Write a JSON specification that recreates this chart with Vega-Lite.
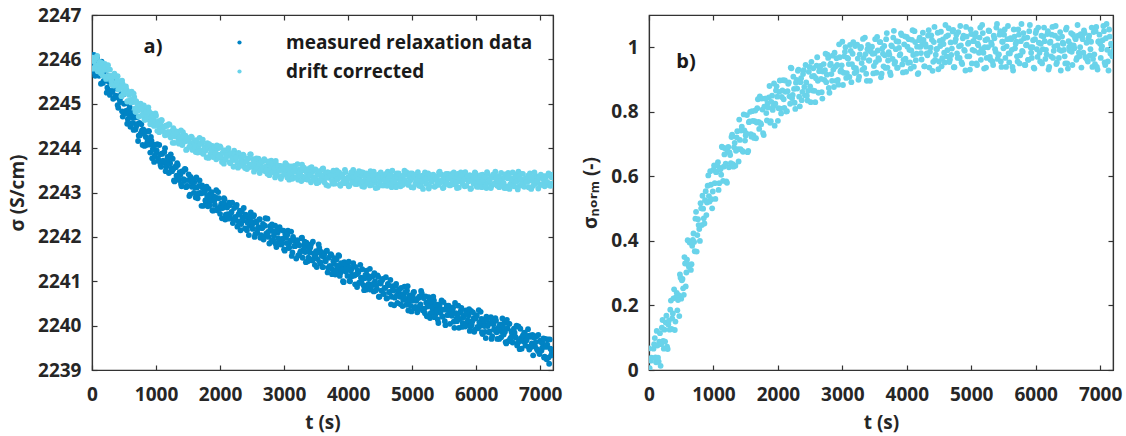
{
"$schema": "https://vega.github.io/schema/vega-lite/v6.json",
"padding": {"left": 7, "top": 5, "right": 5, "bottom": 5},
"spacing": 18,
"config": {
 "font": "Open Sans",
 "view": {"stroke": "#333333", "strokeWidth": 1.2},
 "axis": {"labelFont": "Open Sans", "labelFontSize": 19, "labelFontWeight": "bold", "labelColor": "#262626", "titleFont": "Open Sans, DejaVu Sans", "titleFontSize": 19, "titleFontWeight": "bold", "titleColor": "#262626", "domainColor": "#333333", "domainWidth": 1.2, "tickColor": "#333333", "tickWidth": 1.2, "tickSize": -5, "grid": false, "labelFlush": false, "labelOverlap": false},
 "axisX": {"labelPadding": 20, "titlePadding": 9},
 "axisY": {"labelPadding": 16, "titlePadding": 10},
 "legend": {"labelFont": "Open Sans", "labelFontSize": 19, "labelFontWeight": "bold", "labelColor": "#1a1a1a", "labelOffset": 37, "labelLimit": 0, "rowPadding": 9, "symbolType": "circle", "symbolSize": 18, "padding": 0}
},
"datasets": {"relax": [
{"t":0,"m":2246.09,"d":2245.98,"n":0.067},
{"t":20,"m":2245.72,"d":2245.79,"n":-0.007},
{"t":40,"m":2245.93,"d":2246.00,"n":0.038},
{"t":60,"m":2245.78,"d":2245.86,"n":-0.014},
{"t":80,"m":2246.06,"d":2246.08,"n":0.080},
{"t":100,"m":2245.76,"d":2245.79,"n":0.039},
{"t":120,"m":2245.92,"d":2245.94,"n":0.121},
{"t":140,"m":2245.45,"d":2245.69,"n":0.038},
{"t":160,"m":2245.76,"d":2245.84,"n":0.088},
{"t":180,"m":2245.51,"d":2245.76,"n":0.013},
{"t":200,"m":2245.60,"d":2245.90,"n":0.131},
{"t":220,"m":2245.76,"d":2245.56,"n":0.090},
{"t":240,"m":2245.36,"d":2245.76,"n":0.125},
{"t":260,"m":2245.50,"d":2245.62,"n":0.147},
{"t":280,"m":2245.20,"d":2245.77,"n":0.072},
{"t":300,"m":2245.49,"d":2245.52,"n":0.141},
{"t":320,"m":2245.27,"d":2245.60,"n":0.125},
{"t":340,"m":2245.58,"d":2245.41,"n":0.215},
{"t":360,"m":2245.14,"d":2245.62,"n":0.160},
{"t":380,"m":2245.35,"d":2245.46,"n":0.222},
{"t":400,"m":2244.97,"d":2245.62,"n":0.124},
{"t":420,"m":2245.17,"d":2245.34,"n":0.226},
{"t":440,"m":2245.04,"d":2245.43,"n":0.185},
{"t":460,"m":2245.22,"d":2245.17,"n":0.232},
{"t":480,"m":2244.71,"d":2245.44,"n":0.296},
{"t":500,"m":2245.00,"d":2245.28,"n":0.221},
{"t":520,"m":2244.78,"d":2245.32,"n":0.282},
{"t":540,"m":2245.01,"d":2245.32,"n":0.233},
{"t":560,"m":2244.65,"d":2245.06,"n":0.330},
{"t":580,"m":2244.75,"d":2245.20,"n":0.302},
{"t":600,"m":2244.48,"d":2245.08,"n":0.402},
{"t":620,"m":2244.79,"d":2245.27,"n":0.319},
{"t":640,"m":2244.57,"d":2245.04,"n":0.397},
{"t":660,"m":2244.82,"d":2245.15,"n":0.328},
{"t":680,"m":2244.42,"d":2244.82,"n":0.403},
{"t":700,"m":2244.54,"d":2245.02,"n":0.397},
{"t":720,"m":2244.16,"d":2244.84,"n":0.469},
{"t":740,"m":2244.57,"d":2244.89,"n":0.367},
{"t":760,"m":2244.33,"d":2245.00,"n":0.467},
{"t":780,"m":2244.40,"d":2244.73,"n":0.437},
{"t":800,"m":2244.42,"d":2244.84,"n":0.517},
{"t":820,"m":2244.05,"d":2244.64,"n":0.449},
{"t":840,"m":2244.25,"d":2244.85,"n":0.500},
{"t":860,"m":2244.11,"d":2244.70,"n":0.454},
{"t":880,"m":2244.38,"d":2244.92,"n":0.554},
{"t":900,"m":2244.08,"d":2244.63,"n":0.519},
{"t":920,"m":2244.25,"d":2244.78,"n":0.603},
{"t":940,"m":2243.77,"d":2244.53,"n":0.522},
{"t":960,"m":2244.08,"d":2244.67,"n":0.574},
{"t":980,"m":2243.83,"d":2244.59,"n":0.501},
{"t":1000,"m":2243.92,"d":2244.73,"n":0.621},
{"t":1020,"m":2244.09,"d":2244.39,"n":0.579},
{"t":1040,"m":2243.71,"d":2244.61,"n":0.613},
{"t":1060,"m":2243.86,"d":2244.47,"n":0.634},
{"t":1080,"m":2243.58,"d":2244.63,"n":0.558},
{"t":1100,"m":2243.88,"d":2244.39,"n":0.626},
{"t":1120,"m":2243.68,"d":2244.48,"n":0.605},
{"t":1140,"m":2244.00,"d":2244.29,"n":0.690},
{"t":1160,"m":2243.58,"d":2244.51,"n":0.630},
{"t":1180,"m":2243.80,"d":2244.36,"n":0.687},
{"t":1200,"m":2243.44,"d":2244.54,"n":0.584},
{"t":1220,"m":2243.66,"d":2244.27,"n":0.677},
{"t":1240,"m":2243.55,"d":2244.37,"n":0.628},
{"t":1260,"m":2243.76,"d":2244.12,"n":0.666},
{"t":1280,"m":2243.27,"d":2244.41,"n":0.722},
{"t":1300,"m":2243.58,"d":2244.26,"n":0.638},
{"t":1320,"m":2243.38,"d":2244.32,"n":0.690},
{"t":1340,"m":2243.62,"d":2244.34,"n":0.633},
{"t":1360,"m":2243.28,"d":2244.10,"n":0.721},
{"t":1380,"m":2243.40,"d":2244.25,"n":0.684},
{"t":1400,"m":2243.14,"d":2244.16,"n":0.776},
{"t":1420,"m":2243.47,"d":2244.36,"n":0.684},
{"t":1440,"m":2243.26,"d":2244.16,"n":0.754},
{"t":1460,"m":2243.52,"d":2244.28,"n":0.676},
{"t":1480,"m":2243.14,"d":2243.97,"n":0.742},
{"t":1500,"m":2243.28,"d":2244.19,"n":0.727},
{"t":1520,"m":2242.92,"d":2244.03,"n":0.790},
{"t":1540,"m":2243.35,"d":2244.11,"n":0.679},
{"t":1560,"m":2243.13,"d":2244.24,"n":0.770},
{"t":1580,"m":2243.21,"d":2243.98,"n":0.731},
{"t":1600,"m":2243.24,"d":2244.09,"n":0.802},
{"t":1620,"m":2242.89,"d":2243.91,"n":0.727},
{"t":1640,"m":2243.11,"d":2244.13,"n":0.771},
{"t":1660,"m":2242.98,"d":2244.00,"n":0.718},
{"t":1680,"m":2243.27,"d":2244.23,"n":0.811},
{"t":1700,"m":2242.98,"d":2243.94,"n":0.769},
{"t":1720,"m":2243.16,"d":2244.11,"n":0.848},
{"t":1740,"m":2242.70,"d":2243.87,"n":0.761},
{"t":1760,"m":2243.03,"d":2244.02,"n":0.807},
{"t":1780,"m":2242.79,"d":2243.95,"n":0.728},
{"t":1800,"m":2242.90,"d":2244.11,"n":0.841},
{"t":1820,"m":2243.08,"d":2243.78,"n":0.796},
{"t":1840,"m":2242.71,"d":2244.01,"n":0.827},
{"t":1860,"m":2242.87,"d":2243.88,"n":0.845},
{"t":1880,"m":2242.60,"d":2244.05,"n":0.766},
{"t":1900,"m":2242.91,"d":2243.82,"n":0.831},
{"t":1920,"m":2242.72,"d":2243.92,"n":0.806},
{"t":1940,"m":2243.05,"d":2243.75,"n":0.888},
{"t":1960,"m":2242.64,"d":2243.99,"n":0.825},
{"t":1980,"m":2242.87,"d":2243.85,"n":0.879},
{"t":2000,"m":2242.52,"d":2244.04,"n":0.772},
{"t":2020,"m":2242.75,"d":2243.78,"n":0.862},
{"t":2040,"m":2242.65,"d":2243.89,"n":0.810},
{"t":2060,"m":2242.87,"d":2243.65,"n":0.846},
{"t":2080,"m":2242.39,"d":2243.94,"n":0.898},
{"t":2100,"m":2242.71,"d":2243.81,"n":0.812},
{"t":2120,"m":2242.51,"d":2243.87,"n":0.862},
{"t":2140,"m":2242.77,"d":2243.90,"n":0.802},
{"t":2160,"m":2242.43,"d":2243.66,"n":0.887},
{"t":2180,"m":2242.56,"d":2243.82,"n":0.848},
{"t":2200,"m":2242.31,"d":2243.73,"n":0.937},
{"t":2220,"m":2242.65,"d":2243.94,"n":0.842},
{"t":2240,"m":2242.45,"d":2243.74,"n":0.909},
{"t":2260,"m":2242.72,"d":2243.87,"n":0.828},
{"t":2280,"m":2242.35,"d":2243.56,"n":0.890},
{"t":2300,"m":2242.50,"d":2243.80,"n":0.872},
{"t":2320,"m":2242.15,"d":2243.64,"n":0.931},
{"t":2340,"m":2242.58,"d":2243.72,"n":0.817},
{"t":2360,"m":2242.37,"d":2243.85,"n":0.904},
{"t":2380,"m":2242.46,"d":2243.59,"n":0.862},
{"t":2400,"m":2242.50,"d":2243.71,"n":0.929},
{"t":2420,"m":2242.15,"d":2243.53,"n":0.851},
{"t":2440,"m":2242.38,"d":2243.76,"n":0.891},
{"t":2460,"m":2242.25,"d":2243.63,"n":0.835},
{"t":2480,"m":2242.55,"d":2243.86,"n":0.924},
{"t":2500,"m":2242.27,"d":2243.58,"n":0.879},
{"t":2520,"m":2242.46,"d":2243.75,"n":0.955},
{"t":2540,"m":2242.00,"d":2243.52,"n":0.866},
{"t":2560,"m":2242.34,"d":2243.68,"n":0.911},
{"t":2580,"m":2242.10,"d":2243.61,"n":0.830},
{"t":2600,"m":2242.22,"d":2243.76,"n":0.943},
{"t":2620,"m":2242.40,"d":2243.44,"n":0.896},
{"t":2640,"m":2242.04,"d":2243.67,"n":0.926},
{"t":2660,"m":2242.20,"d":2243.54,"n":0.942},
{"t":2680,"m":2241.94,"d":2243.71,"n":0.861},
{"t":2700,"m":2242.25,"d":2243.49,"n":0.925},
{"t":2720,"m":2242.07,"d":2243.59,"n":0.899},
{"t":2740,"m":2242.41,"d":2243.42,"n":0.980},
{"t":2760,"m":2242.00,"d":2243.66,"n":0.915},
{"t":2780,"m":2242.24,"d":2243.52,"n":0.967},
{"t":2800,"m":2241.89,"d":2243.72,"n":0.859},
{"t":2820,"m":2242.13,"d":2243.46,"n":0.949},
{"t":2840,"m":2242.03,"d":2243.58,"n":0.896},
{"t":2860,"m":2242.25,"d":2243.34,"n":0.931},
{"t":2880,"m":2241.77,"d":2243.63,"n":0.983},
{"t":2900,"m":2242.10,"d":2243.50,"n":0.896},
{"t":2920,"m":2241.90,"d":2243.56,"n":0.945},
{"t":2940,"m":2242.16,"d":2243.60,"n":0.884},
{"t":2960,"m":2241.83,"d":2243.36,"n":0.969},
{"t":2980,"m":2241.96,"d":2243.53,"n":0.929},
{"t":3000,"m":2241.72,"d":2243.44,"n":1.017},
{"t":3020,"m":2242.06,"d":2243.66,"n":0.921},
{"t":3040,"m":2241.86,"d":2243.46,"n":0.986},
{"t":3060,"m":2242.14,"d":2243.60,"n":0.905},
{"t":3080,"m":2241.76,"d":2243.29,"n":0.967},
{"t":3100,"m":2241.92,"d":2243.53,"n":0.948},
{"t":3120,"m":2241.57,"d":2243.37,"n":1.007},
{"t":3140,"m":2242.00,"d":2243.46,"n":0.892},
{"t":3160,"m":2241.79,"d":2243.60,"n":0.980},
{"t":3180,"m":2241.89,"d":2243.34,"n":0.937},
{"t":3200,"m":2241.92,"d":2243.47,"n":1.004},
{"t":3220,"m":2241.58,"d":2243.29,"n":0.925},
{"t":3240,"m":2241.81,"d":2243.52,"n":0.965},
{"t":3260,"m":2241.68,"d":2243.39,"n":0.909},
{"t":3280,"m":2241.98,"d":2243.63,"n":0.997},
{"t":3300,"m":2241.70,"d":2243.35,"n":0.951},
{"t":3320,"m":2241.89,"d":2243.53,"n":1.026},
{"t":3340,"m":2241.43,"d":2243.30,"n":0.936},
{"t":3360,"m":2241.77,"d":2243.46,"n":0.979},
{"t":3380,"m":2241.53,"d":2243.40,"n":0.896},
{"t":3400,"m":2241.65,"d":2243.55,"n":1.007},
{"t":3420,"m":2241.83,"d":2243.23,"n":0.959},
{"t":3440,"m":2241.47,"d":2243.46,"n":0.987},
{"t":3460,"m":2241.63,"d":2243.34,"n":1.002},
{"t":3480,"m":2241.37,"d":2243.51,"n":0.919},
{"t":3500,"m":2241.68,"d":2243.29,"n":0.981},
{"t":3520,"m":2241.50,"d":2243.40,"n":0.954},
{"t":3540,"m":2241.83,"d":2243.23,"n":1.032},
{"t":3560,"m":2241.43,"d":2243.47,"n":0.966},
{"t":3580,"m":2241.66,"d":2243.34,"n":1.016},
{"t":3600,"m":2241.32,"d":2243.53,"n":0.907},
{"t":3620,"m":2241.56,"d":2243.28,"n":0.996},
{"t":3640,"m":2241.46,"d":2243.40,"n":0.941},
{"t":3660,"m":2241.68,"d":2243.17,"n":0.975},
{"t":3680,"m":2241.20,"d":2243.46,"n":1.025},
{"t":3700,"m":2241.53,"d":2243.33,"n":0.937},
{"t":3720,"m":2241.34,"d":2243.40,"n":0.985},
{"t":3740,"m":2241.59,"d":2243.43,"n":0.922},
{"t":3760,"m":2241.26,"d":2243.20,"n":1.006},
{"t":3780,"m":2241.39,"d":2243.37,"n":0.964},
{"t":3800,"m":2241.15,"d":2243.29,"n":1.051},
{"t":3820,"m":2241.49,"d":2243.50,"n":0.955},
{"t":3840,"m":2241.29,"d":2243.31,"n":1.019},
{"t":3860,"m":2241.57,"d":2243.45,"n":0.937},
{"t":3880,"m":2241.19,"d":2243.15,"n":0.998},
{"t":3900,"m":2241.35,"d":2243.38,"n":0.979},
{"t":3920,"m":2241.00,"d":2243.23,"n":1.038},
{"t":3940,"m":2241.43,"d":2243.32,"n":0.922},
{"t":3960,"m":2241.22,"d":2243.46,"n":1.009},
{"t":3980,"m":2241.31,"d":2243.21,"n":0.965},
{"t":4000,"m":2241.35,"d":2243.34,"n":1.032},
{"t":4020,"m":2241.01,"d":2243.16,"n":0.952},
{"t":4040,"m":2241.23,"d":2243.39,"n":0.992},
{"t":4060,"m":2241.11,"d":2243.27,"n":0.934},
{"t":4080,"m":2241.41,"d":2243.51,"n":1.023},
{"t":4100,"m":2241.13,"d":2243.24,"n":0.976},
{"t":4120,"m":2241.32,"d":2243.42,"n":1.050},
{"t":4140,"m":2240.87,"d":2243.19,"n":0.960},
{"t":4160,"m":2241.20,"d":2243.36,"n":1.002},
{"t":4180,"m":2240.97,"d":2243.30,"n":0.920},
{"t":4200,"m":2241.08,"d":2243.46,"n":1.030},
{"t":4220,"m":2241.27,"d":2243.14,"n":0.982},
{"t":4240,"m":2240.91,"d":2243.38,"n":1.009},
{"t":4260,"m":2241.07,"d":2243.25,"n":1.023},
{"t":4280,"m":2240.81,"d":2243.43,"n":0.941},
{"t":4300,"m":2241.13,"d":2243.21,"n":1.002},
{"t":4320,"m":2240.94,"d":2243.32,"n":0.975},
{"t":4340,"m":2241.28,"d":2243.16,"n":1.053},
{"t":4360,"m":2240.88,"d":2243.40,"n":0.986},
{"t":4380,"m":2241.11,"d":2243.27,"n":1.037},
{"t":4400,"m":2240.77,"d":2243.47,"n":0.927},
{"t":4420,"m":2241.00,"d":2243.22,"n":1.016},
{"t":4440,"m":2240.91,"d":2243.34,"n":0.961},
{"t":4460,"m":2241.13,"d":2243.11,"n":0.994},
{"t":4480,"m":2240.65,"d":2243.41,"n":1.045},
{"t":4500,"m":2240.98,"d":2243.28,"n":0.956},
{"t":4520,"m":2240.79,"d":2243.35,"n":1.004},
{"t":4540,"m":2241.05,"d":2243.39,"n":0.941},
{"t":4560,"m":2240.71,"d":2243.16,"n":1.024},
{"t":4580,"m":2240.85,"d":2243.33,"n":0.983},
{"t":4600,"m":2240.61,"d":2243.25,"n":1.069},
{"t":4620,"m":2240.94,"d":2243.47,"n":0.972},
{"t":4640,"m":2240.75,"d":2243.28,"n":1.037},
{"t":4660,"m":2241.03,"d":2243.42,"n":0.954},
{"t":4680,"m":2240.65,"d":2243.12,"n":1.015},
{"t":4700,"m":2240.81,"d":2243.36,"n":0.996},
{"t":4720,"m":2240.46,"d":2243.21,"n":1.054},
{"t":4740,"m":2240.90,"d":2243.30,"n":0.938},
{"t":4760,"m":2240.68,"d":2243.43,"n":1.025},
{"t":4780,"m":2240.78,"d":2243.18,"n":0.981},
{"t":4800,"m":2240.82,"d":2243.31,"n":1.047},
{"t":4820,"m":2240.48,"d":2243.14,"n":0.967},
{"t":4840,"m":2240.70,"d":2243.37,"n":1.006},
{"t":4860,"m":2240.58,"d":2243.25,"n":0.948},
{"t":4880,"m":2240.88,"d":2243.49,"n":1.036},
{"t":4900,"m":2240.60,"d":2243.22,"n":0.989},
{"t":4920,"m":2240.79,"d":2243.40,"n":1.063},
{"t":4940,"m":2240.34,"d":2243.17,"n":0.972},
{"t":4960,"m":2240.68,"d":2243.34,"n":1.014},
{"t":4980,"m":2240.44,"d":2243.28,"n":0.931},
{"t":5000,"m":2240.56,"d":2243.43,"n":1.041},
{"t":5020,"m":2240.75,"d":2243.11,"n":0.992},
{"t":5040,"m":2240.39,"d":2243.35,"n":1.019},
{"t":5060,"m":2240.56,"d":2243.23,"n":1.033},
{"t":5080,"m":2240.30,"d":2243.41,"n":0.950},
{"t":5100,"m":2240.62,"d":2243.19,"n":1.011},
{"t":5120,"m":2240.44,"d":2243.30,"n":0.983},
{"t":5140,"m":2240.78,"d":2243.14,"n":1.061},
{"t":5160,"m":2240.38,"d":2243.38,"n":0.994},
{"t":5180,"m":2240.62,"d":2243.25,"n":1.044},
{"t":5200,"m":2240.28,"d":2243.45,"n":0.934},
{"t":5220,"m":2240.52,"d":2243.20,"n":1.022},
{"t":5240,"m":2240.43,"d":2243.32,"n":0.967},
{"t":5260,"m":2240.64,"d":2243.09,"n":1.000},
{"t":5280,"m":2240.17,"d":2243.39,"n":1.050},
{"t":5300,"m":2240.50,"d":2243.26,"n":0.961},
{"t":5320,"m":2240.31,"d":2243.33,"n":1.008},
{"t":5340,"m":2240.57,"d":2243.37,"n":0.945},
{"t":5360,"m":2240.24,"d":2243.14,"n":1.028},
{"t":5380,"m":2240.38,"d":2243.31,"n":0.986},
{"t":5400,"m":2240.14,"d":2243.23,"n":1.072},
{"t":5420,"m":2240.48,"d":2243.45,"n":0.975},
{"t":5440,"m":2240.29,"d":2243.26,"n":1.039},
{"t":5460,"m":2240.57,"d":2243.40,"n":0.956},
{"t":5480,"m":2240.20,"d":2243.10,"n":1.017},
{"t":5500,"m":2240.36,"d":2243.34,"n":0.997},
{"t":5520,"m":2240.01,"d":2243.19,"n":1.055},
{"t":5540,"m":2240.45,"d":2243.28,"n":0.939},
{"t":5560,"m":2240.24,"d":2243.42,"n":1.025},
{"t":5580,"m":2240.34,"d":2243.17,"n":0.981},
{"t":5600,"m":2240.34,"d":2243.17,"n":0.981},
{"t":5620,"m":2240.22,"d":2243.42,"n":1.025},
{"t":5640,"m":2240.41,"d":2243.28,"n":0.939},
{"t":5660,"m":2239.95,"d":2243.19,"n":1.055},
{"t":5680,"m":2240.28,"d":2243.34,"n":0.997},
{"t":5700,"m":2240.10,"d":2243.10,"n":1.017},
{"t":5720,"m":2240.45,"d":2243.40,"n":0.956},
{"t":5740,"m":2240.15,"d":2243.26,"n":1.039},
{"t":5760,"m":2240.33,"d":2243.45,"n":0.975},
{"t":5780,"m":2239.97,"d":2243.23,"n":1.072},
{"t":5800,"m":2240.19,"d":2243.31,"n":0.986},
{"t":5820,"m":2240.03,"d":2243.14,"n":1.028},
{"t":5840,"m":2240.34,"d":2243.37,"n":0.945},
{"t":5860,"m":2240.06,"d":2243.33,"n":1.008},
{"t":5880,"m":2240.23,"d":2243.26,"n":0.961},
{"t":5900,"m":2239.88,"d":2243.39,"n":1.050},
{"t":5920,"m":2240.33,"d":2243.09,"n":1.000},
{"t":5940,"m":2240.10,"d":2243.32,"n":0.967},
{"t":5960,"m":2240.17,"d":2243.20,"n":1.022},
{"t":5980,"m":2239.91,"d":2243.45,"n":0.934},
{"t":6000,"m":2240.23,"d":2243.25,"n":1.044},
{"t":6020,"m":2239.97,"d":2243.37,"n":0.994},
{"t":6040,"m":2240.35,"d":2243.13,"n":1.061},
{"t":6060,"m":2239.99,"d":2243.29,"n":0.983},
{"t":6080,"m":2240.15,"d":2243.18,"n":1.011},
{"t":6100,"m":2239.81,"d":2243.40,"n":0.950},
{"t":6120,"m":2240.05,"d":2243.22,"n":1.033},
{"t":6140,"m":2239.86,"d":2243.34,"n":1.019},
{"t":6160,"m":2240.20,"d":2243.10,"n":0.992},
{"t":6180,"m":2239.99,"d":2243.42,"n":1.041},
{"t":6200,"m":2239.85,"d":2243.26,"n":0.931},
{"t":6220,"m":2240.06,"d":2243.32,"n":1.014},
{"t":6240,"m":2239.70,"d":2243.15,"n":0.972},
{"t":6260,"m":2240.13,"d":2243.38,"n":1.063},
{"t":6280,"m":2239.92,"d":2243.20,"n":0.989},
{"t":6300,"m":2240.17,"d":2243.47,"n":1.036},
{"t":6320,"m":2239.85,"d":2243.23,"n":0.948},
{"t":6340,"m":2239.95,"d":2243.35,"n":1.006},
{"t":6360,"m":2239.70,"d":2243.12,"n":0.967},
{"t":6380,"m":2240.02,"d":2243.29,"n":1.047},
{"t":6400,"m":2239.86,"d":2243.20,"n":0.989},
{"t":6420,"m":2239.96,"d":2243.32,"n":1.014},
{"t":6440,"m":2240.06,"d":2243.10,"n":0.992},
{"t":6460,"m":2239.63,"d":2243.40,"n":0.950},
{"t":6480,"m":2240.13,"d":2243.13,"n":1.061},
{"t":6500,"m":2239.65,"d":2243.44,"n":0.934},
{"t":6520,"m":2240.04,"d":2243.08,"n":1.000},
{"t":6540,"m":2239.73,"d":2243.32,"n":1.008},
{"t":6560,"m":2239.82,"d":2243.30,"n":0.986},
{"t":6580,"m":2239.75,"d":2243.25,"n":1.039},
{"t":6600,"m":2239.84,"d":2243.33,"n":0.997},
{"t":6620,"m":2239.73,"d":2243.41,"n":1.025},
{"t":6640,"m":2239.55,"d":2243.12,"n":0.967},
{"t":6660,"m":2239.98,"d":2243.47,"n":1.036},
{"t":6680,"m":2239.47,"d":2243.15,"n":0.972},
{"t":6700,"m":2239.72,"d":2243.42,"n":1.041},
{"t":6720,"m":2239.74,"d":2243.22,"n":1.033},
{"t":6740,"m":2239.64,"d":2243.29,"n":0.983},
{"t":6760,"m":2239.83,"d":2243.24,"n":1.044},
{"t":6780,"m":2239.66,"d":2243.31,"n":0.967},
{"t":6800,"m":2239.76,"d":2243.24,"n":0.961},
{"t":6820,"m":2239.52,"d":2243.12,"n":1.028},
{"t":6840,"m":2239.78,"d":2243.43,"n":0.975},
{"t":6860,"m":2239.52,"d":2243.08,"n":1.017},
{"t":6880,"m":2239.79,"d":2243.26,"n":0.939},
{"t":6900,"m":2239.74,"d":2243.28,"n":1.047},
{"t":6920,"m":2239.53,"d":2243.22,"n":0.948},
{"t":6940,"m":2239.76,"d":2243.37,"n":1.063},
{"t":6960,"m":2239.44,"d":2243.25,"n":0.931},
{"t":6980,"m":2239.41,"d":2243.33,"n":1.019},
{"t":7000,"m":2239.66,"d":2243.17,"n":1.011},
{"t":7020,"m":2239.44,"d":2243.36,"n":0.994},
{"t":7040,"m":2239.60,"d":2243.18,"n":1.022},
{"t":7060,"m":2239.28,"d":2243.37,"n":1.050},
{"t":7080,"m":2239.70,"d":2243.35,"n":0.945},
{"t":7100,"m":2239.24,"d":2243.21,"n":1.072},
{"t":7120,"m":2239.69,"d":2243.38,"n":0.956},
{"t":7140,"m":2239.14,"d":2243.17,"n":1.055},
{"t":7160,"m":2239.48,"d":2243.15,"n":0.981},
{"t":7180,"m":2239.43,"d":2243.34,"n":1.006},
{"t":7200,"m":2239.36,"d":2243.19,"n":0.989},
{"t":10,"m":2245.85,"d":2246.04,"n":0.006},
{"t":30,"m":2246.10,"d":2245.96,"n":0.029},
{"t":50,"m":2245.63,"d":2245.83,"n":-0.028},
{"t":70,"m":2245.91,"d":2246.04,"n":0.066},
{"t":90,"m":2245.95,"d":2245.73,"n":0.099},
{"t":110,"m":2245.63,"d":2245.90,"n":0.024},
{"t":130,"m":2245.74,"d":2245.79,"n":0.076},
{"t":150,"m":2245.95,"d":2245.92,"n":0.026},
{"t":170,"m":2245.47,"d":2245.63,"n":0.114},
{"t":190,"m":2245.73,"d":2245.78,"n":0.080},
{"t":210,"m":2245.55,"d":2245.82,"n":0.155},
{"t":230,"m":2245.25,"d":2245.61,"n":0.066},
{"t":250,"m":2245.62,"d":2245.87,"n":0.088},
{"t":270,"m":2245.49,"d":2245.61,"n":0.168},
{"t":290,"m":2245.29,"d":2245.63,"n":0.065},
{"t":310,"m":2245.58,"d":2245.43,"n":0.153},
{"t":330,"m":2245.11,"d":2245.64,"n":0.187},
{"t":350,"m":2245.35,"d":2245.68,"n":0.127},
{"t":370,"m":2245.18,"d":2245.43,"n":0.175},
{"t":390,"m":2245.36,"d":2245.51,"n":0.250},
{"t":410,"m":2244.91,"d":2245.32,"n":0.150},
{"t":430,"m":2245.10,"d":2245.51,"n":0.239},
{"t":450,"m":2245.15,"d":2245.36,"n":0.217},
{"t":470,"m":2244.83,"d":2245.52,"n":0.167},
{"t":490,"m":2245.21,"d":2245.22,"n":0.286},
{"t":510,"m":2244.81,"d":2245.23,"n":0.278},
{"t":530,"m":2244.84,"d":2245.39,"n":0.253},
{"t":550,"m":2244.55,"d":2245.05,"n":0.350},
{"t":570,"m":2244.86,"d":2245.24,"n":0.259},
{"t":590,"m":2244.92,"d":2245.26,"n":0.342},
{"t":610,"m":2244.55,"d":2245.03,"n":0.326},
{"t":630,"m":2244.69,"d":2245.09,"n":0.395},
{"t":650,"m":2244.41,"d":2245.23,"n":0.310},
{"t":670,"m":2244.69,"d":2244.89,"n":0.385},
{"t":690,"m":2244.49,"d":2245.06,"n":0.423},
{"t":710,"m":2244.70,"d":2244.93,"n":0.368},
{"t":730,"m":2244.28,"d":2244.71,"n":0.490},
{"t":750,"m":2244.29,"d":2244.97,"n":0.418},
{"t":770,"m":2244.54,"d":2244.88,"n":0.449},
{"t":790,"m":2244.07,"d":2244.75,"n":0.400},
{"t":810,"m":2244.34,"d":2244.96,"n":0.501},
{"t":830,"m":2244.38,"d":2244.64,"n":0.540},
{"t":850,"m":2244.07,"d":2244.81,"n":0.470},
{"t":870,"m":2244.17,"d":2244.70,"n":0.526},
{"t":890,"m":2244.38,"d":2244.83,"n":0.480},
{"t":910,"m":2243.90,"d":2244.54,"n":0.571},
{"t":930,"m":2244.16,"d":2244.68,"n":0.539},
{"t":950,"m":2243.98,"d":2244.72,"n":0.616},
{"t":970,"m":2243.69,"d":2244.50,"n":0.529},
{"t":990,"m":2244.07,"d":2244.78,"n":0.553},
{"t":1010,"m":2243.95,"d":2244.52,"n":0.634},
{"t":1030,"m":2243.77,"d":2244.55,"n":0.530},
{"t":1050,"m":2244.07,"d":2244.36,"n":0.615},
{"t":1070,"m":2243.62,"d":2244.58,"n":0.644},
{"t":1090,"m":2243.87,"d":2244.63,"n":0.579},
{"t":1110,"m":2243.72,"d":2244.39,"n":0.622},
{"t":1130,"m":2243.91,"d":2244.49,"n":0.692},
{"t":1150,"m":2243.48,"d":2244.30,"n":0.586},
{"t":1170,"m":2243.69,"d":2244.50,"n":0.668},
{"t":1190,"m":2243.76,"d":2244.36,"n":0.639},
{"t":1210,"m":2243.46,"d":2244.53,"n":0.580},
{"t":1230,"m":2243.86,"d":2244.24,"n":0.691},
{"t":1250,"m":2243.48,"d":2244.26,"n":0.674},
{"t":1270,"m":2243.53,"d":2244.45,"n":0.641},
{"t":1290,"m":2243.25,"d":2244.12,"n":0.729},
{"t":1310,"m":2243.57,"d":2244.33,"n":0.630},
{"t":1330,"m":2243.66,"d":2244.37,"n":0.704},
{"t":1350,"m":2243.30,"d":2244.16,"n":0.679},
{"t":1370,"m":2243.46,"d":2244.24,"n":0.740},
{"t":1390,"m":2243.19,"d":2244.40,"n":0.646},
{"t":1410,"m":2243.48,"d":2244.07,"n":0.713},
{"t":1430,"m":2243.30,"d":2244.27,"n":0.742},
{"t":1450,"m":2243.53,"d":2244.15,"n":0.679},
{"t":1470,"m":2243.12,"d":2243.96,"n":0.792},
{"t":1490,"m":2243.15,"d":2244.23,"n":0.711},
{"t":1510,"m":2243.41,"d":2244.16,"n":0.733},
{"t":1530,"m":2242.95,"d":2244.04,"n":0.675},
{"t":1550,"m":2243.24,"d":2244.26,"n":0.768},
{"t":1570,"m":2243.30,"d":2243.96,"n":0.800},
{"t":1590,"m":2242.99,"d":2244.13,"n":0.723},
{"t":1610,"m":2243.11,"d":2244.04,"n":0.772},
{"t":1630,"m":2243.34,"d":2244.18,"n":0.719},
{"t":1650,"m":2242.87,"d":2243.90,"n":0.804},
{"t":1670,"m":2243.15,"d":2244.06,"n":0.767},
{"t":1690,"m":2242.99,"d":2244.10,"n":0.839},
{"t":1710,"m":2242.70,"d":2243.90,"n":0.747},
{"t":1730,"m":2243.10,"d":2244.19,"n":0.765},
{"t":1750,"m":2242.99,"d":2243.93,"n":0.841},
{"t":1770,"m":2242.82,"d":2243.97,"n":0.734},
{"t":1790,"m":2243.13,"d":2243.79,"n":0.816},
{"t":1810,"m":2242.69,"d":2244.03,"n":0.841},
{"t":1830,"m":2242.95,"d":2244.09,"n":0.773},
{"t":1850,"m":2242.81,"d":2243.86,"n":0.813},
{"t":1870,"m":2243.01,"d":2243.97,"n":0.880},
{"t":1890,"m":2242.59,"d":2243.80,"n":0.771},
{"t":1910,"m":2242.81,"d":2244.01,"n":0.850},
{"t":1930,"m":2242.89,"d":2243.88,"n":0.817},
{"t":1950,"m":2242.60,"d":2244.06,"n":0.757},
{"t":1970,"m":2243.01,"d":2243.79,"n":0.866},
{"t":1990,"m":2242.64,"d":2243.82,"n":0.847},
{"t":2010,"m":2242.69,"d":2244.01,"n":0.811},
{"t":2030,"m":2242.42,"d":2243.69,"n":0.897},
{"t":2050,"m":2242.76,"d":2243.90,"n":0.795},
{"t":2070,"m":2242.85,"d":2243.95,"n":0.866},
{"t":2090,"m":2242.50,"d":2243.74,"n":0.839},
{"t":2110,"m":2242.66,"d":2243.84,"n":0.897},
{"t":2130,"m":2242.41,"d":2244.00,"n":0.801},
{"t":2150,"m":2242.71,"d":2243.68,"n":0.864},
{"t":2170,"m":2242.53,"d":2243.88,"n":0.891},
{"t":2190,"m":2242.77,"d":2243.77,"n":0.825},
{"t":2210,"m":2242.38,"d":2243.58,"n":0.935},
{"t":2230,"m":2242.41,"d":2243.86,"n":0.852},
{"t":2250,"m":2242.68,"d":2243.79,"n":0.871},
{"t":2270,"m":2242.23,"d":2243.67,"n":0.809},
{"t":2290,"m":2242.52,"d":2243.89,"n":0.899},
{"t":2310,"m":2242.59,"d":2243.60,"n":0.927},
{"t":2330,"m":2242.29,"d":2243.78,"n":0.847},
{"t":2350,"m":2242.42,"d":2243.69,"n":0.892},
{"t":2370,"m":2242.65,"d":2243.83,"n":0.836},
{"t":2390,"m":2242.19,"d":2243.55,"n":0.917},
{"t":2410,"m":2242.47,"d":2243.71,"n":0.877},
{"t":2430,"m":2242.32,"d":2243.76,"n":0.945},
{"t":2450,"m":2242.04,"d":2243.57,"n":0.850},
{"t":2470,"m":2242.45,"d":2243.86,"n":0.865},
{"t":2490,"m":2242.34,"d":2243.61,"n":0.939},
{"t":2510,"m":2242.18,"d":2243.65,"n":0.830},
{"t":2530,"m":2242.49,"d":2243.47,"n":0.910},
{"t":2550,"m":2242.06,"d":2243.71,"n":0.935},
{"t":2570,"m":2242.32,"d":2243.77,"n":0.865},
{"t":2590,"m":2242.19,"d":2243.54,"n":0.904},
{"t":2610,"m":2242.39,"d":2243.65,"n":0.969},
{"t":2630,"m":2241.98,"d":2243.49,"n":0.859},
{"t":2650,"m":2242.20,"d":2243.70,"n":0.936},
{"t":2670,"m":2242.29,"d":2243.57,"n":0.902},
{"t":2690,"m":2242.00,"d":2243.75,"n":0.841},
{"t":2710,"m":2242.42,"d":2243.48,"n":0.948},
{"t":2730,"m":2242.06,"d":2243.51,"n":0.929},
{"t":2750,"m":2242.11,"d":2243.70,"n":0.892},
{"t":2770,"m":2241.85,"d":2243.39,"n":0.977},
{"t":2790,"m":2242.18,"d":2243.60,"n":0.874},
{"t":2810,"m":2242.28,"d":2243.66,"n":0.945},
{"t":2830,"m":2241.93,"d":2243.45,"n":0.917},
{"t":2850,"m":2242.10,"d":2243.55,"n":0.974},
{"t":2870,"m":2241.84,"d":2243.71,"n":0.877},
{"t":2890,"m":2242.15,"d":2243.39,"n":0.940},
{"t":2910,"m":2241.97,"d":2243.60,"n":0.966},
{"t":2930,"m":2242.22,"d":2243.49,"n":0.899},
{"t":2950,"m":2241.83,"d":2243.31,"n":1.009},
{"t":2970,"m":2241.86,"d":2243.59,"n":0.925},
{"t":2990,"m":2242.14,"d":2243.53,"n":0.944},
{"t":3010,"m":2241.69,"d":2243.41,"n":0.883},
{"t":3030,"m":2241.98,"d":2243.64,"n":0.972},
{"t":3050,"m":2242.05,"d":2243.34,"n":1.000},
{"t":3070,"m":2241.75,"d":2243.53,"n":0.920},
{"t":3090,"m":2241.88,"d":2243.44,"n":0.965},
{"t":3110,"m":2242.12,"d":2243.59,"n":0.908},
{"t":3130,"m":2241.65,"d":2243.31,"n":0.989},
{"t":3150,"m":2241.94,"d":2243.48,"n":0.948},
{"t":3170,"m":2241.79,"d":2243.54,"n":1.016},
{"t":3190,"m":2241.51,"d":2243.34,"n":0.920},
{"t":3210,"m":2241.92,"d":2243.64,"n":0.935},
{"t":3230,"m":2241.82,"d":2243.39,"n":1.008},
{"t":3250,"m":2241.65,"d":2243.44,"n":0.899},
{"t":3270,"m":2241.97,"d":2243.26,"n":0.978},
{"t":3290,"m":2241.53,"d":2243.50,"n":1.001},
{"t":3310,"m":2241.80,"d":2243.56,"n":0.930},
{"t":3330,"m":2241.66,"d":2243.34,"n":0.967},
{"t":3350,"m":2241.87,"d":2243.46,"n":1.030},
{"t":3370,"m":2241.45,"d":2243.29,"n":0.918},
{"t":3390,"m":2241.68,"d":2243.51,"n":0.994},
{"t":3410,"m":2241.76,"d":2243.38,"n":0.959},
{"t":3430,"m":2241.48,"d":2243.57,"n":0.896},
{"t":3450,"m":2241.89,"d":2243.29,"n":1.001},
{"t":3470,"m":2241.53,"d":2243.33,"n":0.980},
{"t":3490,"m":2241.58,"d":2243.52,"n":0.942},
{"t":3510,"m":2241.32,"d":2243.21,"n":1.025},
{"t":3530,"m":2241.65,"d":2243.43,"n":0.921},
{"t":3550,"m":2241.75,"d":2243.48,"n":0.990},
{"t":3570,"m":2241.40,"d":2243.28,"n":0.961},
{"t":3590,"m":2241.57,"d":2243.38,"n":1.016},
{"t":3610,"m":2241.32,"d":2243.54,"n":0.918},
{"t":3630,"m":2241.62,"d":2243.23,"n":0.980},
{"t":3650,"m":2241.45,"d":2243.44,"n":1.004},
{"t":3670,"m":2241.69,"d":2243.34,"n":0.936},
{"t":3690,"m":2241.30,"d":2243.15,"n":1.044},
{"t":3710,"m":2241.34,"d":2243.44,"n":0.959},
{"t":3730,"m":2241.61,"d":2243.38,"n":0.977},
{"t":3750,"m":2241.16,"d":2243.26,"n":0.914},
{"t":3770,"m":2241.45,"d":2243.49,"n":1.003},
{"t":3790,"m":2241.52,"d":2243.20,"n":1.030},
{"t":3810,"m":2241.23,"d":2243.39,"n":0.949},
{"t":3830,"m":2241.35,"d":2243.30,"n":0.994},
{"t":3850,"m":2241.59,"d":2243.45,"n":0.936},
{"t":3870,"m":2241.12,"d":2243.18,"n":1.017},
{"t":3890,"m":2241.41,"d":2243.35,"n":0.975},
{"t":3910,"m":2241.26,"d":2243.40,"n":1.043},
{"t":3930,"m":2240.98,"d":2243.21,"n":0.947},
{"t":3950,"m":2241.39,"d":2243.51,"n":0.961},
{"t":3970,"m":2241.28,"d":2243.27,"n":1.034},
{"t":3990,"m":2241.12,"d":2243.32,"n":0.924},
{"t":4010,"m":2241.44,"d":2243.14,"n":1.002},
{"t":4030,"m":2241.00,"d":2243.38,"n":1.025},
{"t":4050,"m":2241.27,"d":2243.45,"n":0.953},
{"t":4070,"m":2241.14,"d":2243.23,"n":0.990},
{"t":4090,"m":2241.34,"d":2243.35,"n":1.053},
{"t":4110,"m":2240.93,"d":2243.19,"n":0.940},
{"t":4130,"m":2241.16,"d":2243.41,"n":1.016},
{"t":4150,"m":2241.24,"d":2243.29,"n":0.980},
{"t":4170,"m":2240.96,"d":2243.48,"n":0.917},
{"t":4190,"m":2241.37,"d":2243.21,"n":1.022},
{"t":4210,"m":2241.01,"d":2243.25,"n":1.001},
{"t":4230,"m":2241.07,"d":2243.45,"n":0.962},
{"t":4250,"m":2240.80,"d":2243.13,"n":1.045},
{"t":4270,"m":2241.14,"d":2243.35,"n":0.941},
{"t":4290,"m":2241.24,"d":2243.41,"n":1.010},
{"t":4310,"m":2240.89,"d":2243.21,"n":0.981},
{"t":4330,"m":2241.06,"d":2243.31,"n":1.036},
{"t":4350,"m":2240.81,"d":2243.48,"n":0.937},
{"t":4370,"m":2241.11,"d":2243.17,"n":0.999},
{"t":4390,"m":2240.94,"d":2243.38,"n":1.023},
{"t":4410,"m":2241.18,"d":2243.28,"n":0.955},
{"t":4430,"m":2240.79,"d":2243.10,"n":1.063},
{"t":4450,"m":2240.83,"d":2243.39,"n":0.977},
{"t":4470,"m":2241.10,"d":2243.33,"n":0.995},
{"t":4490,"m":2240.65,"d":2243.22,"n":0.932},
{"t":4510,"m":2240.95,"d":2243.45,"n":1.020},
{"t":4530,"m":2241.02,"d":2243.16,"n":1.048},
{"t":4550,"m":2240.72,"d":2243.35,"n":0.966},
{"t":4570,"m":2240.85,"d":2243.27,"n":1.010},
{"t":4590,"m":2241.09,"d":2243.42,"n":0.953},
{"t":4610,"m":2240.62,"d":2243.15,"n":1.033},
{"t":4630,"m":2240.91,"d":2243.32,"n":0.991},
{"t":4650,"m":2240.76,"d":2243.38,"n":1.059},
{"t":4670,"m":2240.48,"d":2243.19,"n":0.962},
{"t":4690,"m":2240.89,"d":2243.49,"n":0.976},
{"t":4710,"m":2240.79,"d":2243.25,"n":1.049},
{"t":4730,"m":2240.63,"d":2243.30,"n":0.938},
{"t":4750,"m":2240.94,"d":2243.12,"n":1.017},
{"t":4770,"m":2240.51,"d":2243.36,"n":1.039},
{"t":4790,"m":2240.78,"d":2243.43,"n":0.967},
{"t":4810,"m":2240.65,"d":2243.21,"n":1.003},
{"t":4830,"m":2240.85,"d":2243.33,"n":1.066},
{"t":4850,"m":2240.44,"d":2243.17,"n":0.953},
{"t":4870,"m":2240.67,"d":2243.39,"n":1.028},
{"t":4890,"m":2240.75,"d":2243.27,"n":0.992},
{"t":4910,"m":2240.47,"d":2243.46,"n":0.928},
{"t":4930,"m":2240.89,"d":2243.19,"n":1.033},
{"t":4950,"m":2240.53,"d":2243.23,"n":1.011},
{"t":4970,"m":2240.58,"d":2243.43,"n":0.972},
{"t":4990,"m":2240.32,"d":2243.12,"n":1.055},
{"t":5010,"m":2240.66,"d":2243.33,"n":0.950},
{"t":5030,"m":2240.76,"d":2243.39,"n":1.019},
{"t":5050,"m":2240.42,"d":2243.19,"n":0.989},
{"t":5070,"m":2240.59,"d":2243.29,"n":1.044},
{"t":5090,"m":2240.34,"d":2243.46,"n":0.945},
{"t":5110,"m":2240.65,"d":2243.15,"n":1.006},
{"t":5130,"m":2240.48,"d":2243.36,"n":1.030},
{"t":5150,"m":2240.73,"d":2243.26,"n":0.961},
{"t":5170,"m":2240.34,"d":2243.08,"n":1.069},
{"t":5190,"m":2240.38,"d":2243.37,"n":0.983},
{"t":5210,"m":2240.66,"d":2243.31,"n":1.000},
{"t":5230,"m":2240.21,"d":2243.20,"n":0.937},
{"t":5250,"m":2240.50,"d":2243.43,"n":1.025},
{"t":5270,"m":2240.57,"d":2243.14,"n":1.052},
{"t":5290,"m":2240.28,"d":2243.33,"n":0.970},
{"t":5310,"m":2240.41,"d":2243.25,"n":1.014},
{"t":5330,"m":2240.65,"d":2243.40,"n":0.956},
{"t":5350,"m":2240.19,"d":2243.13,"n":1.036},
{"t":5370,"m":2240.48,"d":2243.30,"n":0.994},
{"t":5390,"m":2240.33,"d":2243.36,"n":1.061},
{"t":5410,"m":2240.06,"d":2243.17,"n":0.964},
{"t":5430,"m":2240.47,"d":2243.47,"n":0.978},
{"t":5450,"m":2240.37,"d":2243.23,"n":1.050},
{"t":5470,"m":2240.21,"d":2243.28,"n":0.939},
{"t":5490,"m":2240.53,"d":2243.11,"n":1.017},
{"t":5510,"m":2240.10,"d":2243.35,"n":1.039},
{"t":5530,"m":2240.37,"d":2243.42,"n":0.967},
{"t":5550,"m":2240.24,"d":2243.20,"n":1.003},
{"t":5570,"m":2240.45,"d":2243.32,"n":1.066},
{"t":5590,"m":2240.04,"d":2243.16,"n":0.953},
{"t":5610,"m":2240.28,"d":2243.38,"n":1.028},
{"t":5630,"m":2240.37,"d":2243.26,"n":0.992},
{"t":5650,"m":2240.09,"d":2243.45,"n":0.928},
{"t":5670,"m":2240.51,"d":2243.18,"n":1.033},
{"t":5690,"m":2240.15,"d":2243.22,"n":1.011},
{"t":5710,"m":2240.21,"d":2243.42,"n":0.972},
{"t":5730,"m":2239.95,"d":2243.11,"n":1.055},
{"t":5750,"m":2240.29,"d":2243.33,"n":0.950},
{"t":5770,"m":2240.40,"d":2243.39,"n":1.019},
{"t":5790,"m":2240.06,"d":2243.19,"n":0.989},
{"t":5810,"m":2240.23,"d":2243.29,"n":1.044},
{"t":5830,"m":2239.98,"d":2243.46,"n":0.945},
{"t":5850,"m":2240.29,"d":2243.15,"n":1.006},
{"t":5870,"m":2240.12,"d":2243.36,"n":1.030},
{"t":5890,"m":2240.37,"d":2243.26,"n":0.961},
{"t":5910,"m":2239.98,"d":2243.08,"n":1.069},
{"t":5930,"m":2240.02,"d":2243.37,"n":0.983},
{"t":5950,"m":2240.30,"d":2243.31,"n":1.000},
{"t":5970,"m":2239.86,"d":2243.20,"n":0.937},
{"t":5990,"m":2240.16,"d":2243.43,"n":1.025},
{"t":6010,"m":2240.23,"d":2243.13,"n":1.052},
{"t":6030,"m":2239.94,"d":2243.32,"n":0.970},
{"t":6050,"m":2240.07,"d":2243.24,"n":1.014},
{"t":6070,"m":2240.31,"d":2243.39,"n":0.956},
{"t":6090,"m":2239.85,"d":2243.12,"n":1.036},
{"t":6110,"m":2240.14,"d":2243.29,"n":0.994},
{"t":6130,"m":2239.99,"d":2243.35,"n":1.061},
{"t":6150,"m":2239.72,"d":2243.16,"n":0.964},
{"t":6170,"m":2240.13,"d":2243.46,"n":0.978},
{"t":6190,"m":2240.03,"d":2243.22,"n":1.050},
{"t":6210,"m":2239.87,"d":2243.27,"n":0.939},
{"t":6230,"m":2240.19,"d":2243.10,"n":1.017},
{"t":6250,"m":2239.76,"d":2243.34,"n":1.039},
{"t":6270,"m":2240.03,"d":2243.41,"n":0.967},
{"t":6290,"m":2239.90,"d":2243.19,"n":1.003},
{"t":6310,"m":2240.11,"d":2243.31,"n":1.066},
{"t":6330,"m":2239.70,"d":2243.15,"n":0.953},
{"t":6350,"m":2239.93,"d":2243.37,"n":1.028},
{"t":6370,"m":2240.02,"d":2243.25,"n":0.992},
{"t":6390,"m":2239.74,"d":2243.44,"n":0.928},
{"t":6410,"m":2240.16,"d":2243.17,"n":1.033},
{"t":6430,"m":2239.80,"d":2243.21,"n":1.011},
{"t":6450,"m":2239.86,"d":2243.41,"n":0.972},
{"t":6470,"m":2239.60,"d":2243.10,"n":1.055},
{"t":6490,"m":2239.94,"d":2243.32,"n":0.950},
{"t":6510,"m":2240.04,"d":2243.38,"n":1.019},
{"t":6530,"m":2239.70,"d":2243.18,"n":0.989},
{"t":6550,"m":2239.87,"d":2243.28,"n":1.044},
{"t":6570,"m":2239.62,"d":2243.45,"n":0.945},
{"t":6590,"m":2239.93,"d":2243.14,"n":1.006},
{"t":6610,"m":2239.75,"d":2243.35,"n":1.030},
{"t":6630,"m":2240.00,"d":2243.25,"n":0.961},
{"t":6650,"m":2239.61,"d":2243.07,"n":1.069},
{"t":6670,"m":2239.65,"d":2243.36,"n":0.983},
{"t":6690,"m":2239.93,"d":2243.30,"n":1.000},
{"t":6710,"m":2239.48,"d":2243.19,"n":0.937},
{"t":6730,"m":2239.78,"d":2243.42,"n":1.025},
{"t":6750,"m":2239.84,"d":2243.13,"n":1.052},
{"t":6770,"m":2239.55,"d":2243.32,"n":0.970},
{"t":6790,"m":2239.68,"d":2243.24,"n":1.014},
{"t":6810,"m":2239.92,"d":2243.38,"n":0.956},
{"t":6830,"m":2239.46,"d":2243.11,"n":1.036},
{"t":6850,"m":2239.75,"d":2243.28,"n":0.994},
{"t":6870,"m":2239.60,"d":2243.34,"n":1.061},
{"t":6890,"m":2239.33,"d":2243.15,"n":0.964},
{"t":6910,"m":2239.74,"d":2243.45,"n":0.978},
{"t":6930,"m":2239.63,"d":2243.21,"n":1.050},
{"t":6950,"m":2239.47,"d":2243.26,"n":0.939},
{"t":6970,"m":2239.79,"d":2243.09,"n":1.017},
{"t":6990,"m":2239.36,"d":2243.33,"n":1.039},
{"t":7010,"m":2239.63,"d":2243.40,"n":0.967},
{"t":7030,"m":2239.50,"d":2243.18,"n":1.003},
{"t":7050,"m":2239.71,"d":2243.30,"n":1.066},
{"t":7070,"m":2239.30,"d":2243.14,"n":0.953},
{"t":7090,"m":2239.52,"d":2243.36,"n":1.028},
{"t":7110,"m":2239.57,"d":2243.24,"n":0.992},
{"t":7130,"m":2239.28,"d":2243.43,"n":0.928},
{"t":7150,"m":2239.69,"d":2243.16,"n":1.033},
{"t":7170,"m":2239.33,"d":2243.20,"n":1.011},
{"t":7190,"m":2239.39,"d":2243.40,"n":0.972}
]},
"hconcat": [
 {
  "width": 461, "height": 355,
  "resolve": {"axis": {"x": "independent", "y": "independent"}},
  "layer": [
   {
    "data": {"name": "relax"},
    "mark": {"type": "circle", "size": 34, "opacity": 1, "clip": true},
    "encoding": {
     "x": {"field": "t", "type": "quantitative", "scale": {"domain": [0, 7200], "nice": false}, "axis": {"title": "t (s)", "values": [0,1000,2000,3000,4000,5000,6000,7000], "format": "d"}},
     "y": {"field": "m", "type": "quantitative", "scale": {"domain": [2239, 2247], "nice": false, "zero": false}, "axis": {"title": "σ (S/cm)", "values": [2239,2240,2241,2242,2243,2244,2245,2246,2247], "format": "d"}},
     "color": {"datum": "measured relaxation data", "type": "nominal", "scale": {"domain": ["measured relaxation data", "drift corrected"], "range": ["#0083C4", "#69D3EA"]}, "legend": {"orient": "none", "legendX": 138, "legendY": 18, "title": null}}
    }
   },
   {
    "data": {"name": "relax"},
    "mark": {"type": "circle", "size": 34, "opacity": 1, "clip": true},
    "encoding": {
     "x": {"field": "t", "type": "quantitative", "scale": {"domain": [0, 7200], "nice": false}, "axis": null},
     "y": {"field": "d", "type": "quantitative", "scale": {"domain": [2239, 2247], "nice": false, "zero": false}, "axis": null},
     "color": {"datum": "drift corrected", "type": "nominal", "scale": {"domain": ["measured relaxation data", "drift corrected"], "range": ["#0083C4", "#69D3EA"]}}
    }
   },
   {
    "data": {"values": [{"t": 953, "v": 2246.28, "label": "a)"}]},
    "mark": {"type": "text", "font": "Open Sans", "fontSize": 20, "fontWeight": "bold", "color": "#1a1a1a", "align": "center", "baseline": "middle"},
    "encoding": {
     "x": {"field": "t", "type": "quantitative", "scale": {"domain": [0, 7200], "nice": false}, "axis": {"orient": "top", "labels": false, "title": null, "values": [0,1000,2000,3000,4000,5000,6000,7000]}},
     "y": {"field": "v", "type": "quantitative", "scale": {"domain": [2239, 2247], "nice": false, "zero": false}, "axis": {"orient": "right", "labels": false, "title": null, "values": [2239,2240,2241,2242,2243,2244,2245,2246,2247]}},
     "text": {"field": "label"}
    }
   }
  ]
 },
 {
  "width": 464, "height": 355,
  "resolve": {"axis": {"x": "independent", "y": "independent"}},
  "layer": [
   {
    "data": {"name": "relax"},
    "mark": {"type": "circle", "size": 34, "opacity": 1, "clip": true, "color": "#69D3EA"},
    "encoding": {
     "x": {"field": "t", "type": "quantitative", "scale": {"domain": [0, 7200], "nice": false}, "axis": {"title": "t (s)", "values": [0,1000,2000,3000,4000,5000,6000,7000], "format": "d"}},
     "y": {"field": "n", "type": "quantitative", "scale": {"domain": [0, 1.1], "nice": false}, "axis": {"title": "σₙₒᵣₘ (-)", "values": [0,0.2,0.4,0.6,0.8,1], "format": "~g"}}
    }
   },
   {
    "data": {"values": [{"t": 574, "v": 0.953, "label": "b)"}]},
    "mark": {"type": "text", "font": "Open Sans", "fontSize": 20, "fontWeight": "bold", "color": "#1a1a1a", "align": "center", "baseline": "middle"},
    "encoding": {
     "x": {"field": "t", "type": "quantitative", "scale": {"domain": [0, 7200], "nice": false}, "axis": {"orient": "top", "labels": false, "title": null, "values": [0,1000,2000,3000,4000,5000,6000,7000]}},
     "y": {"field": "v", "type": "quantitative", "scale": {"domain": [0, 1.1], "nice": false}, "axis": {"orient": "right", "labels": false, "title": null, "values": [0,0.2,0.4,0.6,0.8,1]}},
     "text": {"field": "label"}
    }
   }
  ]
 }
]
}
